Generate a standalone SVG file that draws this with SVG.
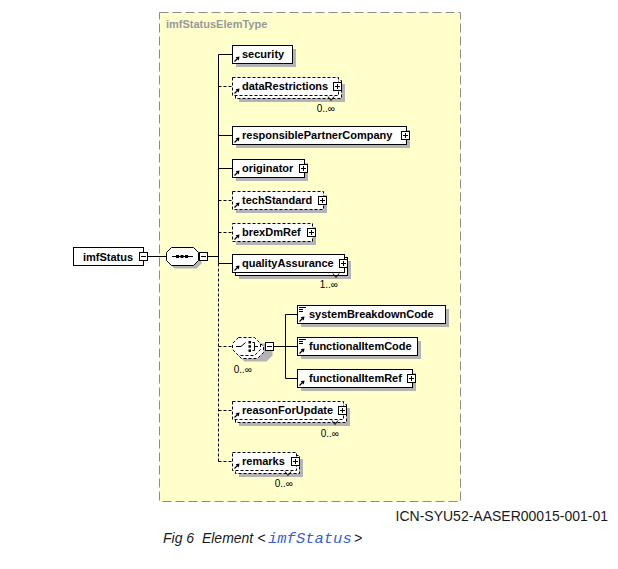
<svg xmlns="http://www.w3.org/2000/svg" width="618" height="569" viewBox="0 0 618 569">
<style>
.bg{fill:#fff}
.frame{fill:#FFFFCC;stroke:#8c8c8c;stroke-width:1;stroke-dasharray:9,4}
.title{font-family:"Liberation Sans",Arial,sans-serif;font-size:11px;font-weight:bold;fill:#999}
.box{fill:#fff;stroke:#000;stroke-width:1}
.opt{stroke-dasharray:3,2}
.sh{fill:#b4b4b4}
.t{font-family:"Liberation Sans",Arial,sans-serif;font-size:11px;font-weight:bold;fill:#000}
.occ{font-family:"Liberation Sans",Arial,sans-serif;font-size:10px;fill:#000;text-anchor:end}
.ln{fill:none;stroke:#000;stroke-width:1}
.dl{stroke-dasharray:3,2}
.icn{font-family:"Liberation Sans",Arial,sans-serif;font-size:14px;fill:#1a1a1a;text-anchor:end}
.cap{font-family:"Liberation Sans",Arial,sans-serif;font-size:14px;font-style:italic;fill:#1a1a1a}
.code{font-family:"Liberation Mono","Courier New",monospace;font-size:15.5px;font-style:italic;fill:#3a5fd0}
</style>
<defs>
<g id="plus"><rect x="0.5" y="0.5" width="8" height="8" fill="#fff" stroke="#000"/><path d="M2 4.5H7M4.5 2V7" stroke="#000"/></g>
<g id="minus"><rect x="0.5" y="0.5" width="8" height="8" fill="#fff" stroke="#000"/><path d="M2 4.5H7" stroke="#000"/></g>
<g id="ref"><path d="M2.5 7.5L6 4" stroke="#000" stroke-width="1.2"/><path d="M7.5 2.5L3.6 3.2L6.8 6.4Z" fill="#000"/></g>
<g id="simple"><path d="M2 -6.5H9M2 -4.5H6M2 -2.5H6" stroke="#000"/></g>
</defs>
<rect class="bg" x="0" y="0" width="618" height="569"/>
<rect class="frame" x="159.5" y="12.5" width="301" height="489"/>
<text class="title" x="166" y="28">imfStatusElemType</text>

<g id="connectors">
<path class="ln" d="M148 256.5H166.5"/>
<path class="ln" d="M208 256.5H218.5"/>
<path class="ln" d="M218.5 54.5V263.5"/>
<path class="ln dl" d="M218.5 263.5V461.5"/>
<path class="ln" d="M218.5 54.5H232.5"/>
<path class="ln dl" d="M218.5 86.5H232.5"/>
<path class="ln" d="M218.5 135.5H232.5"/>
<path class="ln" d="M218.5 168.5H232.5"/>
<path class="ln dl" d="M218.5 200.5H232.5"/>
<path class="ln dl" d="M218.5 232.5H232.5"/>
<path class="ln" d="M218.5 263.5H232.5"/>
<path class="ln dl" d="M218.5 346.5H232.5"/>
<path class="ln dl" d="M218.5 410.5H232.5"/>
<path class="ln dl" d="M218.5 461.5H232.5"/>
<path class="ln" d="M274 346.5H285.5"/>
<path class="ln" d="M285.5 314.5V378.5"/>
<path class="ln" d="M285.5 314.5H297.5M285.5 346.5H297.5M285.5 378.5H297.5"/>
</g>

<g id="imfStatus">
<rect class="box" x="73.5" y="247.5" width="70" height="18"/>
<text class="t" x="83" y="260.5">imfStatus</text>
<use href="#minus" x="139" y="252"/>
</g>

<g id="sequence">
<path class="sh" d="M174.5 250.5H196.5L201.5 255.5V263.5L196.5 268.5H174.5L169.5 263.5V255.5Z"/>
<path class="box" d="M171.5 247.5H193.5L198.5 252.5V260.5L193.5 265.5H171.5L166.5 260.5V252.5Z"/>
<path class="ln" d="M172 256.5H193"/>
<rect x="176" y="255" width="3" height="3" fill="#000"/>
<rect x="180.5" y="255" width="3" height="3" fill="#000"/>
<rect x="185" y="255" width="3" height="3" fill="#000"/>
<use href="#minus" x="199" y="252"/>
</g>

<g id="security" transform="translate(232,54)">
<rect class="sh" x="4" y="-5" width="60" height="18"/>
<rect class="box" x="0.5" y="-8.5" width="60" height="18"/>
<use href="#ref"/>
<text class="t" x="10" y="4">security</text>
</g>

<g id="dataRestrictions" transform="translate(232,86)">
<rect class="sh" x="7" y="-2" width="106" height="18"/>
<rect class="box opt" x="3.5" y="-5.5" width="106" height="18"/>
<rect class="box opt" x="0.5" y="-8.5" width="106" height="18"/>
<use href="#ref"/>
<text class="t" x="10" y="4">dataRestrictions</text>
<use href="#plus" x="101" y="-4"/>
<path class="ln" d="M96 10.5l3 4l3 -4"/>
<text class="occ" x="103" y="26">0..∞</text>
</g>

<g id="responsiblePartnerCompany" transform="translate(232,135)">
<rect class="sh" x="4" y="-5" width="174" height="18"/>
<rect class="box" x="0.5" y="-8.5" width="174" height="18"/>
<use href="#ref"/>
<text class="t" x="10" y="4">responsiblePartnerCompany</text>
<use href="#plus" x="169" y="-4"/>
</g>

<g id="originator" transform="translate(232,168)">
<rect class="sh" x="4" y="-5" width="72" height="18"/>
<rect class="box" x="0.5" y="-8.5" width="72" height="18"/>
<use href="#ref"/>
<text class="t" x="10" y="4">originator</text>
<use href="#plus" x="67" y="-4"/>
</g>

<g id="techStandard" transform="translate(232,200)">
<rect class="sh" x="4" y="-5" width="91" height="18"/>
<rect class="box opt" x="0.5" y="-8.5" width="91" height="18"/>
<use href="#ref"/>
<text class="t" x="10" y="4">techStandard</text>
<use href="#plus" x="86" y="-4"/>
</g>

<g id="brexDmRef" transform="translate(232,232)">
<rect class="sh" x="4" y="-5" width="80" height="18"/>
<rect class="box opt" x="0.5" y="-8.5" width="80" height="18"/>
<use href="#ref"/>
<text class="t" x="10" y="4">brexDmRef</text>
<use href="#plus" x="75" y="-4"/>
</g>

<g id="qualityAssurance" transform="translate(232,263)">
<rect class="sh" x="7" y="-2" width="112" height="18"/>
<rect class="box" x="3.5" y="-5.5" width="112" height="18"/>
<rect class="box" x="0.5" y="-8.5" width="112" height="18"/>
<use href="#ref"/>
<text class="t" x="10" y="4">qualityAssurance</text>
<use href="#plus" x="107" y="-4"/>
<path class="ln" d="M101 10.5l3 4l3 -4"/>
<text class="occ" x="106" y="25">1..∞</text>
</g>

<g id="choice">
<path class="sh" d="M244.5 343.5H266.5L272.5 349.5V355.5L266.5 361.5H244.5L238.5 355.5V349.5Z"/>
<path class="box opt" d="M241.5 340.5H257.5L263.5 346.5V352.5L257.5 358.5H241.5L235.5 352.5V346.5Z"/>
<path class="box opt" d="M238.5 337.5H254.5L260.5 343.5V349.5L254.5 355.5H238.5L232.5 349.5V343.5Z"/>
<path class="ln" d="M236 346.5H241L245.5 342.5"/>
<rect x="248.5" y="341" width="2.5" height="2.5" fill="#000"/>
<rect x="248.5" y="345.2" width="2.5" height="2.5" fill="#000"/>
<rect x="248.5" y="349.4" width="2.5" height="2.5" fill="#000"/>
<path class="ln" d="M252.5 342.5H254.5V350.5H252.5M254.5 346.5H258"/>
<use href="#minus" x="265" y="342"/>
<text class="occ" x="252" y="373">0..∞</text>
</g>

<g id="systemBreakdownCode" transform="translate(297,314)">
<rect class="sh" x="4" y="-5" width="148" height="18"/>
<rect class="box" x="0.5" y="-8.5" width="148" height="18"/>
<use href="#simple"/>
<use href="#ref"/>
<text class="t" x="12" y="4">systemBreakdownCode</text>
</g>

<g id="functionalItemCode" transform="translate(297,346)">
<rect class="sh" x="4" y="-5" width="120" height="18"/>
<rect class="box" x="0.5" y="-8.5" width="120" height="18"/>
<use href="#simple"/>
<use href="#ref"/>
<text class="t" x="12" y="4">functionalItemCode</text>
</g>

<g id="functionalItemRef" transform="translate(297,378)">
<rect class="sh" x="4" y="-5" width="115" height="18"/>
<rect class="box" x="0.5" y="-8.5" width="115" height="18"/>
<use href="#ref"/>
<text class="t" x="12" y="4">functionalItemRef</text>
<use href="#plus" x="110" y="-4"/>
</g>

<g id="reasonForUpdate" transform="translate(232,410)">
<rect class="sh" x="7" y="-2" width="111" height="18"/>
<rect class="box opt" x="3.5" y="-5.5" width="111" height="18"/>
<rect class="box opt" x="0.5" y="-8.5" width="111" height="18"/>
<use href="#ref"/>
<text class="t" x="10" y="4">reasonForUpdate</text>
<use href="#plus" x="106" y="-4"/>
<path class="ln" d="M100 10.5l3 4l3 -4"/>
<text class="occ" x="107" y="27">0..∞</text>
</g>

<g id="remarks" transform="translate(232,461)">
<rect class="sh" x="7" y="-2" width="64" height="18"/>
<rect class="box opt" x="3.5" y="-5.5" width="64" height="18"/>
<rect class="box opt" x="0.5" y="-8.5" width="64" height="18"/>
<use href="#ref"/>
<text class="t" x="10" y="4">remarks</text>
<use href="#plus" x="59" y="-4"/>
<path class="ln" d="M53 10.5l3 4l3 -4"/>
<text class="occ" x="61" y="26">0..∞</text>
</g>

<text class="icn" x="608" y="521">ICN-SYU52-AASER00015-001-01</text>
<text class="cap" x="163" y="543" xml:space="preserve">Fig 6  Element &lt;<tspan class="code" x="268">imfStatus</tspan><tspan x="354">&gt;</tspan></text>
</svg>
